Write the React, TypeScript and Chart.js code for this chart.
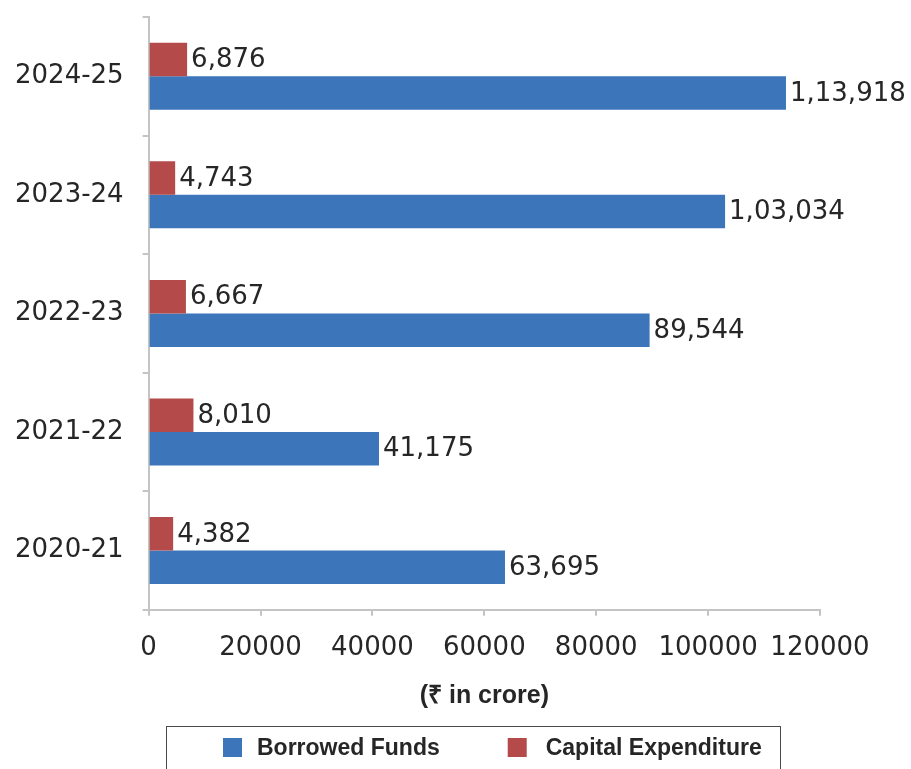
import React, { useEffect, useRef } from 'react';
import { Chart, registerables } from 'chart.js';

Chart.register(...registerables);

const categories = ['2024-25', '2023-24', '2022-23', '2021-22', '2020-21'];
const borrowedFunds = [113918, 103034, 89544, 41175, 63695];
const capitalExpenditure = [6876, 4743, 6667, 8010, 4382];
const seriesNames = ['Borrowed Funds', 'Capital Expenditure'];
const seriesColors = ['#3C75B9', '#B54A4A'];
const xMin = 0;
const xMax = 120000;
const xStep = 20000;
const axisTitle = '(₹ in crore)';

const TEXT = '#262626';
const AXIS = '#c4c4c4';
const NUM_FONT = '"DejaVu Sans", sans-serif';
const BOLD_FONT = '"Liberation Sans", Arial, sans-serif';

function formatIndian(n: number): string {
  const s = String(Math.round(n));
  if (s.length <= 3) return s;
  const last3 = s.slice(-3);
  let rest = s.slice(0, -3);
  const parts: string[] = [];
  while (rest.length > 2) {
    parts.unshift(rest.slice(-2));
    rest = rest.slice(0, -2);
  }
  if (rest) parts.unshift(rest);
  return parts.join(',') + ',' + last3;
}

const valueLabels = {
  id: 'valueLabels',
  afterDatasetsDraw(chart: any) {
    const ctx = chart.ctx;
    ctx.save();
    ctx.font = '26px ' + NUM_FONT;
    ctx.fillStyle = TEXT;
    ctx.textAlign = 'left';
    ctx.textBaseline = 'middle';
    chart.data.datasets.forEach((ds: any, di: number) => {
      const meta = chart.getDatasetMeta(di);
      meta.data.forEach((bar: any, i: number) => {
        ctx.fillText(formatIndian(ds.data[i]), bar.x + 4, bar.y + 1);
      });
    });
    ctx.restore();
  },
};

const boxedLegend = {
  id: 'boxedLegend',
  afterDraw(chart: any) {
    const ctx = chart.ctx;
    ctx.save();
    ctx.strokeStyle = '#4a4a4a';
    ctx.lineWidth = 1;
    ctx.strokeRect(166.5, 726.5, 614, 60);
    ctx.font = 'bold 23px ' + BOLD_FONT;
    ctx.textBaseline = 'middle';
    ctx.textAlign = 'left';
    const items = [
      { label: seriesNames[0], color: seriesColors[0] },
      { label: seriesNames[1], color: seriesColors[1] },
    ];
    let x = 223;
    const boxTop = 738;
    const box = 19;
    items.forEach((it, idx) => {
      ctx.fillStyle = it.color;
      ctx.fillRect(x, boxTop, box, box);
      const tx = x + box + (idx === 0 ? 15 : 19);
      ctx.fillStyle = TEXT;
      ctx.fillText(it.label, tx, boxTop + box / 2 + 1);
      x = tx + ctx.measureText(it.label).width + 68;
    });
    ctx.restore();
  },
};

export default function App() {
  const canvasRef = useRef<HTMLCanvasElement | null>(null);

  useEffect(() => {
    if (!canvasRef.current) return;
    const chart = new Chart(canvasRef.current, {
      type: 'bar',
      data: {
        labels: categories,
        datasets: [
          {
            label: seriesNames[1],
            data: capitalExpenditure,
            backgroundColor: seriesColors[1],
            categoryPercentage: 0.565,
            barPercentage: 1,
          },
          {
            label: seriesNames[0],
            data: borrowedFunds,
            backgroundColor: seriesColors[0],
            categoryPercentage: 0.565,
            barPercentage: 1,
          },
        ],
      },
      options: {
        indexAxis: 'y',
        responsive: false,
        animation: false,
        layout: { padding: { top: 17, left: -4, right: 91, bottom: 53 } },
        plugins: {
          legend: { display: false },
          tooltip: { enabled: false },
        },
        scales: {
          x: {
            min: xMin,
            max: xMax,
            border: { display: true, color: AXIS, width: 2 },
            grid: {
              display: true,
              drawOnChartArea: false,
              drawTicks: true,
              tickLength: 6,
              color: AXIS,
              lineWidth: 2,
            },
            ticks: {
              stepSize: xStep,
              padding: 17,
              color: TEXT,
              font: { family: NUM_FONT, size: 26 },
              callback: (v: any) => String(v),
              maxRotation: 0,
            },
            title: {
              display: true,
              text: axisTitle,
              color: TEXT,
              font: { family: BOLD_FONT, size: 25, weight: 'bold' },
              padding: { top: 0, bottom: 5 },
            },
          },
          y: {
            afterFit: (scale: any) => {
              scale.paddingTop = 0;
              scale.paddingBottom = 0;
            },
            border: { display: true, color: AXIS, width: 2 },
            grid: {
              display: true,
              drawOnChartArea: false,
              drawTicks: true,
              tickLength: 6,
              color: AXIS,
              lineWidth: 2,
              offset: true,
            },
            ticks: {
              padding: 19,
              color: TEXT,
              font: { family: NUM_FONT, size: 26 },
            },
          },
        },
      },
      plugins: [valueLabels, boxedLegend],
    } as any);
    return () => chart.destroy();
  }, []);

  return (
    <div style={{ position: 'absolute', left: 0, top: 0, width: 911, height: 769, background: '#fff' }}>
      <canvas ref={canvasRef} width={911} height={769} style={{ display: 'block' }} />
    </div>
  );
}
